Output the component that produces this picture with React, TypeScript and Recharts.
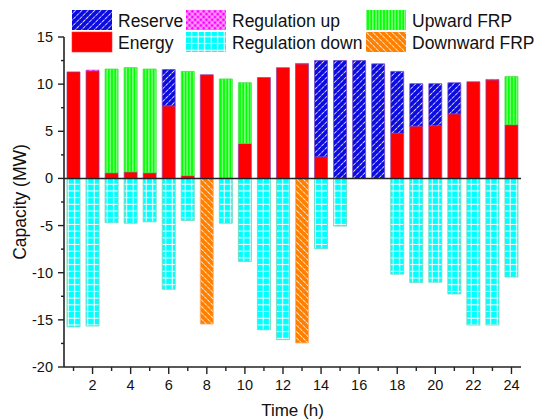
import React from 'react';
import { BarChart, Bar, XAxis, YAxis, ReferenceLine } from 'recharts';

const hours = [1,2,3,4,5,6,7,8,9,10,11,12,13,14,15,16,17,18,19,20,21,22,23,24];
const energy = [11.3, 11.4, 0.6, 0.7, 0.6, 7.7, 0.3, 11.0, 0, 3.7, 10.7, 11.75, 12.15, 2.3, 0, 0, 0, 4.8, 5.55, 5.6, 6.85, 10.25, 10.45, 5.7];
const reserve = [0, 0, 0, 0, 0, 3.85, 0, 0, 0, 0, 0, 0, 0, 10.2, 12.5, 12.5, 12.15, 6.55, 4.5, 4.45, 3.3, 0, 0, 0];
const regUp = [0, 0.1, 0, 0, 0, 0, 0, 0, 0, 0, 0, 0, 0.05, 0, 0, 0, 0, 0, 0, 0, 0, 0, 0.05, 0];
const upFRP = [0, 0, 11.0, 11.05, 11.0, 0, 11.05, 0, 10.55, 6.45, 0, 0, 0, 0, 0, 0, 0, 0, 0, 0, 0, 0, 0, 5.1];
const regDown = [-15.75, -15.65, -4.7, -4.75, -4.6, -11.75, -4.45, 0, -4.75, -8.8, -16.05, -17.1, 0, -7.45, -5.05, 0, 0, -10.15, -11.05, -11.0, -12.25, -15.55, -15.55, -10.45];
const downFRP = [0, 0, 0, 0, 0, 0, 0, -15.45, 0, 0, 0, 0, -17.45, 0, 0, 0, 0, 0, 0, 0, 0, 0, 0, 0];
const yTicks = [-20, -17.5, -15, -12.5, -10, -7.5, -5, -2.5, 0, 2.5, 5, 7.5, 10, 12.5, 15];

const data = hours.map((h, i) => ({
  hour: h,
  energy: energy[i],
  reserve: reserve[i],
  regUp: regUp[i],
  upFRP: upFRP[i],
  regDown: regDown[i],
  downFRP: downFRP[i],
}));

const FONT = '"Liberation Sans", Arial, sans-serif';
const AXIS = '#222';

const Patterns = ({ p }: { p: string }) => (
  <defs>
    <pattern id={p + 'reserve'} patternUnits="userSpaceOnUse" width={4.5} height={4.5} patternTransform="rotate(45)">
      <rect width={4.5} height={4.5} fill="#0c0ce0" />
      <line x1={2.25} y1={0} x2={2.25} y2={4.5} stroke="#ffffff" strokeWidth={0.9} strokeDasharray="2.2 0.9" opacity={0.85} />
    </pattern>
    <pattern id={p + 'regUp'} patternUnits="userSpaceOnUse" width={4} height={4} patternTransform="rotate(45)">
      <rect width={4} height={4} fill="#ff00ff" />
      <line x1={2} y1={0} x2={2} y2={4} stroke="#ffffff" strokeWidth={0.8} />
      <line x1={0} y1={2} x2={4} y2={2} stroke="#ffffff" strokeWidth={0.8} />
    </pattern>
    <pattern id={p + 'upFRP'} patternUnits="userSpaceOnUse" width={3.2} height={4}>
      <rect width={3.2} height={4} fill="#00ff00" />
      <line x1={1.6} y1={0} x2={1.6} y2={4} stroke="#d8ffd8" strokeWidth={0.9} />
    </pattern>
    <pattern id={p + 'regDown'} patternUnits="userSpaceOnUse" width={6.5} height={6.7}>
      <rect width={6.5} height={6.7} fill="#00ffff" />
      <line x1={3.2} y1={0} x2={3.2} y2={6.7} stroke="#ffffff" strokeWidth={1} />
      <line x1={0} y1={3.3} x2={6.5} y2={3.3} stroke="#ffffff" strokeWidth={1} />
    </pattern>
    <pattern id={p + 'downFRP'} patternUnits="userSpaceOnUse" width={4.5} height={4.5} patternTransform="rotate(-45)">
      <rect width={4.5} height={4.5} fill="#ff8000" />
      <line x1={2.25} y1={0} x2={2.25} y2={4.5} stroke="#ffffff" strokeWidth={0.9} strokeDasharray="2.2 0.9" opacity={0.85} />
    </pattern>
  </defs>
);

const XTick = (props: any) => {
  const { x, y, payload } = props;
  const h = Number(payload.value);
  const major = h % 2 === 0;
  return (
    <g>
      <line x1={x} x2={x} y1={y} y2={y + (major ? 7 : 4)} stroke={AXIS} strokeWidth={1.4} />
      {major && (
        <text x={x} y={y + 18} textAnchor="middle" dominantBaseline="central" fontSize={14.5} fontFamily={FONT} fill="#111">
          {h}
        </text>
      )}
    </g>
  );
};

const YTick = (props: any) => {
  const { x, y, payload } = props;
  const v = Number(payload.value);
  const major = v % 5 === 0;
  return (
    <g>
      <line x1={x - (major ? 6 : 3)} x2={x} y1={y} y2={y} stroke={AXIS} strokeWidth={1.4} />
      {major && (
        <text x={x - 11} y={y} textAnchor="end" dominantBaseline="central" fontSize={14.5} fontFamily={FONT} fill="#111">
          {v}
        </text>
      )}
    </g>
  );
};

const legendItems = [
  { key: 'reserve', label: 'Reserve', x: 72, y: 10 },
  { key: 'regUp', label: 'Regulation up', x: 186, y: 10 },
  { key: 'upFRP', label: 'Upward FRP', x: 366, y: 10 },
  { key: 'energy', label: 'Energy', x: 72, y: 32 },
  { key: 'regDown', label: 'Regulation down', x: 186, y: 32 },
  { key: 'downFRP', label: 'Downward FRP', x: 366, y: 32 },
];

const LegendOverlay = () => (
  <svg width={535} height={60} style={{ position: 'absolute', left: 0, top: 0, pointerEvents: 'none' }}>
    <Patterns p="lg-" />
    {legendItems.map((it) => (
      <g key={it.key}>
        <rect
          x={it.x}
          y={it.y}
          width={40}
          height={20}
          fill={it.key === 'energy' ? '#ff0000' : `url(#lg-${it.key})`}
          stroke={it.key === 'energy' ? '#ff3030' : 'none'}
          strokeWidth={0.6}
        />
        <text x={it.x + 46} y={it.y + 11} dominantBaseline="central" fontSize={17.5} fontFamily={FONT} fill="#111">
          {it.label}
        </text>
      </g>
    ))}
  </svg>
);

export default function App() {
  return (
    <div style={{ position: 'absolute', left: 0, top: 0, width: 535, height: 420, background: '#fff' }}>
      <BarChart
        width={535}
        height={420}
        data={data}
        stackOffset="sign"
        barSize={13}
        margin={{ top: 37, right: 14, bottom: 0, left: 0 }}
      >
        <Patterns p="ch-" />
        <XAxis
          dataKey="hour"
          type="category"
          height={53}
          tick={<XTick />}
          tickLine={false}
          tickSize={0}
          tickMargin={0}
          interval={0}
          axisLine={{ stroke: AXIS, strokeWidth: 1.6 }}
          label={{ value: 'Time (h)', position: 'insideBottom', offset: 4, style: { fontSize: 17, fontFamily: FONT, fill: '#111' } }}
        />
        <YAxis
          type="number"
          domain={[-20, 15]}
          ticks={yTicks}
          width={64}
          tick={<YTick />}
          tickLine={false}
          tickSize={0}
          tickMargin={0}
          interval={0}
          allowDataOverflow
          axisLine={{ stroke: AXIS, strokeWidth: 1.6 }}
          label={{ value: 'Capacity (MW)', angle: -90, position: 'insideLeft', offset: 20, style: { fontSize: 17.5, fontFamily: FONT, fill: '#111', textAnchor: 'middle' } }}
        />
        <Bar dataKey="energy" stackId="a" fill="#ff0000" stroke="#9040b0" strokeWidth={0.7} isAnimationActive={false} />
        <Bar dataKey="reserve" stackId="a" fill="url(#ch-reserve)" stroke="#7040c0" strokeWidth={0.7} isAnimationActive={false} />
        <Bar dataKey="regUp" stackId="a" fill="url(#ch-regUp)" stroke="#c040c0" strokeWidth={0.5} isAnimationActive={false} />
        <Bar dataKey="upFRP" stackId="a" fill="url(#ch-upFRP)" stroke="#40e040" strokeWidth={0.8} isAnimationActive={false} />
        <Bar dataKey="regDown" stackId="a" fill="url(#ch-regDown)" stroke="#70dcc0" strokeWidth={0.9} isAnimationActive={false} />
        <Bar dataKey="downFRP" stackId="a" fill="url(#ch-downFRP)" stroke="#ffb070" strokeWidth={0.8} isAnimationActive={false} />
        <ReferenceLine y={0} stroke={AXIS} strokeWidth={1.6} />
      </BarChart>
      <LegendOverlay />
    </div>
  );
}
